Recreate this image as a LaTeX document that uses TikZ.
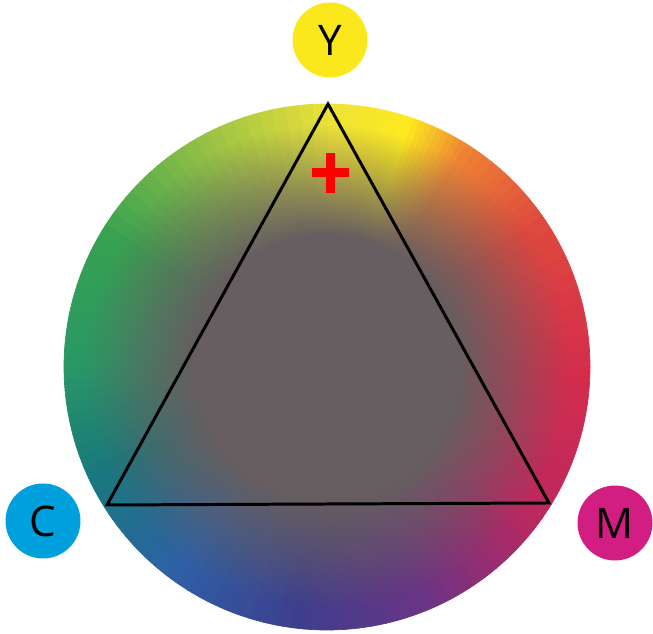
\documentclass[tikz,border=0pt]{standalone}
\usepackage{fontspec}
\setmainfont{Open Sans}
\usetikzlibrary{positioning,fadings}
\definecolor{rimY}{RGB}{238,226,55}
\definecolor{rimB}{RGB}{252,234,30}
\definecolor{rimO}{RGB}{238,130,52}
\definecolor{rimR}{RGB}{222,72,62}
\definecolor{rimC}{RGB}{212,45,76}
\definecolor{rimK}{RGB}{186,40,96}
\definecolor{rimP}{RGB}{108,52,132}
\definecolor{rimI}{RGB}{62,62,142}
\definecolor{rimL}{RGB}{46,96,166}
\definecolor{rimT}{RGB}{24,122,124}
\definecolor{rimG}{RGB}{42,152,100}
\definecolor{rimV}{RGB}{56,162,80}
\definecolor{rimW}{RGB}{150,192,70}
\definecolor{coregray}{RGB}{102,94,96}
\definecolor{inkY}{RGB}{250,232,28}
\definecolor{inkC}{RGB}{0,160,220}
\definecolor{inkM}{RGB}{210,30,130}
\pgfdeclareradialshading{coreshade}{\pgfpointorigin}{color(0bp)=(white); color(12.5bp)=(white); color(17.5bp)=(white!55!black); color(23bp)=(black); color(50bp)=(black)}
\pgfdeclarefading{corefade}{\pgfuseshading{coreshade}}

\begin{document}
\begin{tikzpicture}[x=.02cm,y=.02cm,ink/.style={circle,minimum size=1.5cm,inner sep=0pt,text=black,font=\fontsize{24}{24}\selectfont},tri/.style={draw=black,line width=1.7pt,line join=miter},plus/.style={draw=red,line width=.18cm}]
\useasboundingbox (0,0) rectangle (653,634);
\coordinate (wc) at (327,267);
% colour wheel, wedge by wedge
\foreach \a/\b/\ca/\cb in {90/72/rimY/rimB,72/58/rimB/rimO,58/35/rimO/rimR,35/0/rimR/rimC,0/-35/rimC/rimK,-35/-65/rimK/rimP,-65/-95/rimP/rimI,-95/-125/rimI/rimL,-125/-155/rimL/rimT,-155/-180/rimT/rimG,-180/-210/rimG/rimV,-210/-240/rimV/rimW,-240/-270/rimW/rimY}{
  \foreach \t in {0,...,9}{
    \pgfmathsetmacro\s{\a+(\b-\a)*\t/10}
    \pgfmathsetmacro\e{\a+(\b-\a)*(\t+1)/10}
    \pgfmathtruncatemacro\p{100-10*\t}
    \path[fill=\ca!\p!\cb,draw=\ca!\p!\cb,line width=.4pt] (wc) -- ++(\s:263) arc[start angle=\s,end angle=\e,radius=263] -- cycle;
  }
}
% grey core
\fill[coregray,path fading=corefade,fit fading=true] (wc) circle[radius=263];
\coordinate (ty) at (328,530);
\coordinate (tc) at (107,129);
\coordinate (tm) at (549,131);
\draw[tri] (ty) -- (tc) -- (tm) -- cycle;
\coordinate (pl) at (330,461);
\draw[plus] (pl) ++(0,-20) -- ++(0,40) (pl) ++(-18.5,0) -- ++(37,0);
\node[ink,fill=inkY] (Y) at (330,594) {Y};
\node[ink,fill=inkC] (C) at (43,113) {C};
\node[ink,fill=inkM] (M) at (615,111) {M};
\end{tikzpicture}
\end{document}
